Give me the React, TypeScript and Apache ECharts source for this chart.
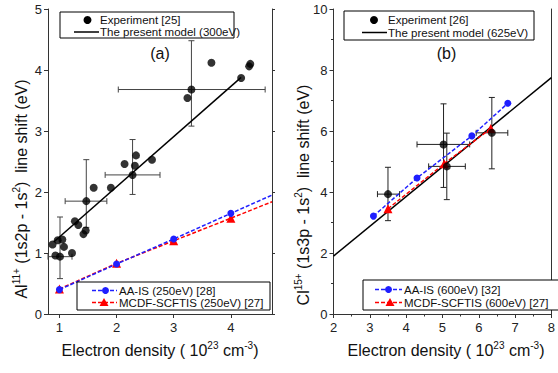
import React, { useEffect, useRef } from 'react';
import * as echarts from 'echarts';

// ---------- Panel (a): Al11+ ----------
const expAX = [0.88, 0.93, 0.97, 1.01, 1.05, 1.08, 1.22, 1.27, 1.33, 1.42, 1.46, 1.47, 1.60, 1.90, 2.14, 2.28, 2.32, 2.34, 2.62, 3.24, 3.31, 3.66, 4.18, 4.32, 4.34];
const expAY = [1.14, 0.96, 1.21, 0.94, 1.22, 1.10, 1.00, 1.52, 1.46, 1.31, 1.37, 1.85, 2.07, 2.07, 2.46, 2.28, 2.43, 2.60, 2.53, 3.54, 3.68, 4.12, 3.87, 4.06, 4.10];
// error bars: x, y, xLow, xHigh, yLow, yHigh
const errAX = [1.01, 1.47, 2.28, 3.31];
const errAY = [0.94, 1.85, 2.28, 3.68];
const errAXLow = [0.80, 1.10, 1.80, 2.03];
const errAXHigh = [1.22, 1.83, 2.76, 4.60];
const errAYLow = [0.58, 1.42, 1.96, 3.08];
const errAYHigh = [1.59, 2.53, 2.86, 4.48];
const modelAX = [0.9, 4.18];
const modelAY = [1.18, 3.88];
const aaisAX = [1, 2, 3, 4];
const aaisAY = [0.40, 0.82, 1.23, 1.65];
const aaisAExtX = 4.72;
const aaisAExtY = 1.95;
const mcdfAX = [1, 2, 3, 4];
const mcdfAY = [0.41, 0.83, 1.20, 1.57];
const mcdfAExtX = 4.72;
const mcdfAExtY = 1.84;
const ticksA = [1, 2, 3, 4];

// ---------- Panel (b): Cl15+ ----------
const expBX = [3.5, 5.03, 5.12, 6.36];
const expBY = [3.93, 5.56, 4.84, 5.94];
const errBXLow = [3.21, 4.30, 4.62, 5.93];
const errBXHigh = [3.82, 5.75, 5.63, 6.80];
const errBYLow = [3.06, 4.15, 3.75, 4.76];
const errBYHigh = [4.81, 6.89, 5.93, 7.10];
const modelBX = [2, 8];
const modelBY = [1.9, 7.75];
const aaisBX = [3.1, 4.3, 5.81, 6.8];
const aaisBY = [3.21, 4.46, 5.84, 6.91];
const mcdfBX = [3.5, 5.05, 6.33];
const mcdfBY = [3.45, 4.93, 6.08];

const FONT = '"Liberation Sans", Arial, sans-serif';
const AXIS_COLOR = '#333';
const BLUE = '#1f1fff';
const RED = '#ff0000';

const zip = (xs: number[], ys: number[]) => xs.map((x, i) => [x, ys[i]]);

function errorRender(color: string) {
  return (params: any, api: any) => {
    const x = api.value(0), y = api.value(1);
    const xl = api.value(2), xh = api.value(3), yl = api.value(4), yh = api.value(5);
    const cap = 3;
    const style = { stroke: color, lineWidth: 1, fill: 'none' };
    const children: any[] = [];
    const a = api.coord([x, yl]);
    const b = api.coord([x, yh]);
    children.push({ type: 'line', shape: { x1: a[0], y1: a[1], x2: b[0], y2: b[1] }, style });
    children.push({ type: 'line', shape: { x1: a[0] - cap, y1: a[1], x2: a[0] + cap, y2: a[1] }, style });
    children.push({ type: 'line', shape: { x1: b[0] - cap, y1: b[1], x2: b[0] + cap, y2: b[1] }, style });
    const c = api.coord([xl, y]);
    const d = api.coord([xh, y]);
    children.push({ type: 'line', shape: { x1: c[0], y1: c[1], x2: d[0], y2: d[1] }, style });
    children.push({ type: 'line', shape: { x1: c[0], y1: c[1] - cap, x2: c[0], y2: c[1] + cap }, style });
    children.push({ type: 'line', shape: { x1: d[0], y1: d[1] - cap, x2: d[0], y2: d[1] + cap }, style });
    return { type: 'group', children };
  };
}

const axisLine = { show: true, lineStyle: { color: AXIS_COLOR, width: 1 } };
const labelStyle = { color: '#222', fontSize: 13, fontFamily: FONT };

function legendBox(x: number, y: number, w: number, h: number) {
  return { type: 'rect', shape: { x, y, width: w, height: h }, style: { fill: '#fff', stroke: '#000', lineWidth: 1 }, z: 100 };
}
function legendText(x: number, y: number, text: string) {
  return { type: 'text', x, y, style: { text, fill: '#111', fontSize: 11.5, fontFamily: FONT, verticalAlign: 'middle', align: 'left' }, z: 101 };
}
function tri(cx: number, cy: number, color: string) {
  return { type: 'polygon', shape: { points: [[cx, cy - 4.5], [cx - 4.5, cy + 3.5], [cx + 4.5, cy + 3.5]] }, style: { fill: color }, z: 102 };
}

const titleRich = {
  a: { fontSize: 16, fontFamily: FONT, fill: '#111', lineHeight: 20 },
  s: { fontSize: 10, fontFamily: FONT, fill: '#111', verticalAlign: 'top', lineHeight: 10 },
};

export default function App() {
  const ref = useRef<HTMLDivElement>(null);
  useEffect(() => {
    const chart = echarts.init(ref.current!, null, { renderer: 'svg' });
    const errA = errAX.map((x, i) => [x, errAY[i], errAXLow[i], errAXHigh[i], errAYLow[i], errAYHigh[i]]);
    const errB = expBX.map((x, i) => [x, expBY[i], errBXLow[i], errBXHigh[i], errBYLow[i], errBYHigh[i]]);
    const option: any = {
      animation: false,
      backgroundColor: '#fff',
      grid: [
        { left: 48, top: 9, width: 224, height: 305 },
        { left: 333.5, top: 9, width: 223.5, height: 305 },
      ],
      xAxis: [
        {
          type: 'value', gridIndex: 0, min: 0.8, max: 4.72, position: 'bottom',
          axisLine, splitLine: { show: false },
          axisTick: { show: true, customValues: ticksA, length: 4, lineStyle: { color: AXIS_COLOR } },
          axisLabel: { ...labelStyle, customValues: ticksA, margin: 7 },
        },
        {
          type: 'value', gridIndex: 0, min: 0.8, max: 4.72, position: 'top',
          axisLine, splitLine: { show: false }, axisTick: { show: false }, axisLabel: { show: false },
        },
        {
          type: 'value', gridIndex: 1, min: 2, max: 8, interval: 1, position: 'bottom',
          axisLine, splitLine: { show: false },
          axisTick: { show: true, length: 4, lineStyle: { color: AXIS_COLOR } },
          minorTick: { show: true, splitNumber: 2, length: 2.5, lineStyle: { color: AXIS_COLOR } },
          axisLabel: { ...labelStyle, margin: 7 },
        },
        {
          type: 'value', gridIndex: 1, min: 2, max: 8, position: 'top',
          axisLine, splitLine: { show: false }, axisTick: { show: false }, axisLabel: { show: false },
        },
      ],
      yAxis: [
        {
          type: 'value', gridIndex: 0, min: 0, max: 5, interval: 1, position: 'left',
          axisLine, splitLine: { show: false },
          axisTick: { show: true, length: 4, lineStyle: { color: AXIS_COLOR } },
          axisLabel: { ...labelStyle, margin: 6 },
        },
        {
          type: 'value', gridIndex: 0, min: 0, max: 5, interval: 1, position: 'right',
          axisLine, splitLine: { show: false },
          axisTick: { show: true, length: 3, lineStyle: { color: AXIS_COLOR } },
          axisLabel: { show: false },
        },
        {
          type: 'value', gridIndex: 1, min: 0, max: 10, interval: 2, position: 'left',
          axisLine, splitLine: { show: false },
          axisTick: { show: true, length: 4, lineStyle: { color: AXIS_COLOR } },
          minorTick: { show: true, splitNumber: 2, length: 2.5, lineStyle: { color: AXIS_COLOR } },
          axisLabel: { ...labelStyle, margin: 6 },
        },
        {
          type: 'value', gridIndex: 1, min: 0, max: 10, interval: 2, position: 'right',
          axisLine, splitLine: { show: false }, axisTick: { show: false }, axisLabel: { show: false },
        },
      ],
      series: [
        // panel a
        {
          name: 'errA', type: 'custom', xAxisIndex: 0, yAxisIndex: 0, renderItem: errorRender('#444'),
          data: errA, z: 1, silent: true,
        },
        {
          name: 'The present model (300eV)', type: 'line', xAxisIndex: 0, yAxisIndex: 0,
          data: zip(modelAX, modelAY), symbol: 'none', lineStyle: { color: '#000', width: 1.5 }, z: 2,
        },
        {
          name: 'MCDF-SCFTIS (250eV) [27]', type: 'line', xAxisIndex: 0, yAxisIndex: 0,
          data: [...zip(mcdfAX, mcdfAY), { value: [mcdfAExtX, mcdfAExtY], symbol: 'none' }],
          symbol: 'triangle', symbolSize: 9, itemStyle: { color: RED },
          lineStyle: { color: RED, width: 1.5, type: [4, 2] }, z: 3,
        },
        {
          name: 'AA-IS (250eV) [28]', type: 'line', xAxisIndex: 0, yAxisIndex: 0,
          data: [...zip(aaisAX, aaisAY), { value: [aaisAExtX, aaisAExtY], symbol: 'none' }],
          symbol: 'circle', symbolSize: 7, itemStyle: { color: BLUE },
          lineStyle: { color: BLUE, width: 1.5, type: [4, 2] }, z: 4,
        },
        {
          name: 'Experiment [25]', type: 'scatter', xAxisIndex: 0, yAxisIndex: 0,
          data: zip(expAX, expAY), symbol: 'circle', symbolSize: 8, itemStyle: { color: '#000' }, z: 5,
        },
        // panel b
        {
          name: 'errB', type: 'custom', xAxisIndex: 2, yAxisIndex: 2, renderItem: errorRender('#222'),
          data: errB, z: 1, silent: true,
        },
        {
          name: 'The present model (625eV)', type: 'line', xAxisIndex: 2, yAxisIndex: 2,
          data: zip(modelBX, modelBY), symbol: 'none', lineStyle: { color: '#000', width: 1.5 }, z: 2,
        },
        {
          name: 'AA-IS (600eV) [32]', type: 'line', xAxisIndex: 2, yAxisIndex: 2,
          data: zip(aaisBX, aaisBY), symbol: 'circle', symbolSize: 7, itemStyle: { color: BLUE },
          lineStyle: { color: BLUE, width: 1.5, type: [4, 2] }, z: 3,
        },
        {
          name: 'MCDF-SCFTIS (600eV) [27]', type: 'line', xAxisIndex: 2, yAxisIndex: 2,
          data: zip(mcdfBX, mcdfBY), symbol: 'triangle', symbolSize: 9, itemStyle: { color: RED },
          lineStyle: { color: RED, width: 1.5, type: [4, 2] }, z: 3,
        },
        {
          name: 'Experiment [26]', type: 'scatter', xAxisIndex: 2, yAxisIndex: 2,
          data: zip(expBX, expBY), symbol: 'circle', symbolSize: 8, itemStyle: { color: '#000' }, z: 5,
        },
      ],
      graphic: [
        // legend a top
        legendBox(60, 12, 174, 26),
        { type: 'circle', shape: { cx: 87.5, cy: 20, r: 4 }, style: { fill: '#000' }, z: 102 },
        legendText(100, 20, 'Experiment [25]'),
        { type: 'line', shape: { x1: 74, y1: 32, x2: 99, y2: 32 }, style: { stroke: '#000', lineWidth: 1.5 }, z: 102 },
        legendText(100, 32, 'The present model (300eV)'),
        // legend a bottom
        legendBox(77, 282, 193, 28),
        { type: 'line', shape: { x1: 92, y1: 290.5, x2: 117, y2: 290.5 }, style: { stroke: BLUE, lineWidth: 1.5, lineDash: [4, 2] }, z: 102 },
        { type: 'circle', shape: { cx: 105.5, cy: 290.5, r: 3.5 }, style: { fill: BLUE }, z: 103 },
        legendText(119, 291, 'AA-IS (250eV) [28]'),
        { type: 'line', shape: { x1: 92, y1: 302.5, x2: 117, y2: 302.5 }, style: { stroke: RED, lineWidth: 1.5, lineDash: [4, 2] }, z: 102 },
        tri(104, 302.5, RED),
        legendText(119, 303, 'MCDF-SCFTIS (250eV) [27]'),
        // legend b top
        legendBox(344, 11, 190, 29),
        { type: 'circle', shape: { cx: 374, cy: 20, r: 4 }, style: { fill: '#000' }, z: 102 },
        legendText(388, 20, 'Experiment [26]'),
        { type: 'line', shape: { x1: 362, y1: 32.5, x2: 387, y2: 32.5 }, style: { stroke: '#000', lineWidth: 1.5 }, z: 102 },
        legendText(388, 32.5, 'The present model (625eV)'),
        // legend b bottom
        legendBox(363, 280, 196, 30),
        { type: 'line', shape: { x1: 375, y1: 289.5, x2: 402, y2: 289.5 }, style: { stroke: BLUE, lineWidth: 1.5, lineDash: [4, 2] }, z: 102 },
        { type: 'circle', shape: { cx: 388.5, cy: 289.5, r: 3.5 }, style: { fill: BLUE }, z: 103 },
        legendText(404, 290, 'AA-IS (600eV) [32]'),
        { type: 'line', shape: { x1: 375, y1: 302.5, x2: 402, y2: 302.5 }, style: { stroke: RED, lineWidth: 1.5, lineDash: [4, 2] }, z: 102 },
        tri(390, 302.5, RED),
        legendText(404, 303, 'MCDF-SCFTIS (600eV) [27]'),
        // panel labels
        { type: 'text', x: 160, y: 53, style: { text: '(a)', fontSize: 16, fontFamily: FONT, fill: '#111', align: 'center', verticalAlign: 'middle' }, z: 100 },
        { type: 'text', x: 446.5, y: 53, style: { text: '(b)', fontSize: 16, fontFamily: FONT, fill: '#111', align: 'center', verticalAlign: 'middle' }, z: 100 },
        // axis titles
        {
          type: 'text', x: 160, y: 350,
          style: { text: '{a|Electron density ( 10}{s|23}{a| cm}{s|-3}{a|)}', rich: titleRich, align: 'center', verticalAlign: 'middle' },
        },
        {
          type: 'text', x: 446, y: 350,
          style: { text: '{a|Electron density ( 10}{s|23}{a| cm}{s|-3}{a|)}', rich: titleRich, align: 'center', verticalAlign: 'middle' },
        },
        {
          type: 'text', x: 21, y: 189, rotation: Math.PI / 2,
          style: { text: '{a|Al}{s|11+}{a| (1s2p - 1s}{s|2}{a|)  line shift (eV)}', rich: titleRich, align: 'center', verticalAlign: 'middle' },
        },
        {
          type: 'text', x: 303, y: 195, rotation: Math.PI / 2,
          style: { text: '{a|Cl}{s|15+}{a| (1s3p - 1s}{s|2}{a|)  line shift (eV)}', rich: titleRich, align: 'center', verticalAlign: 'middle' },
        },
      ],
    };
    chart.setOption(option);
    return () => chart.dispose();
  }, []);
  return <div ref={ref} style={{ position: 'fixed', left: 0, top: 0, width: 558, height: 373, background: '#fff' }} />;
}
